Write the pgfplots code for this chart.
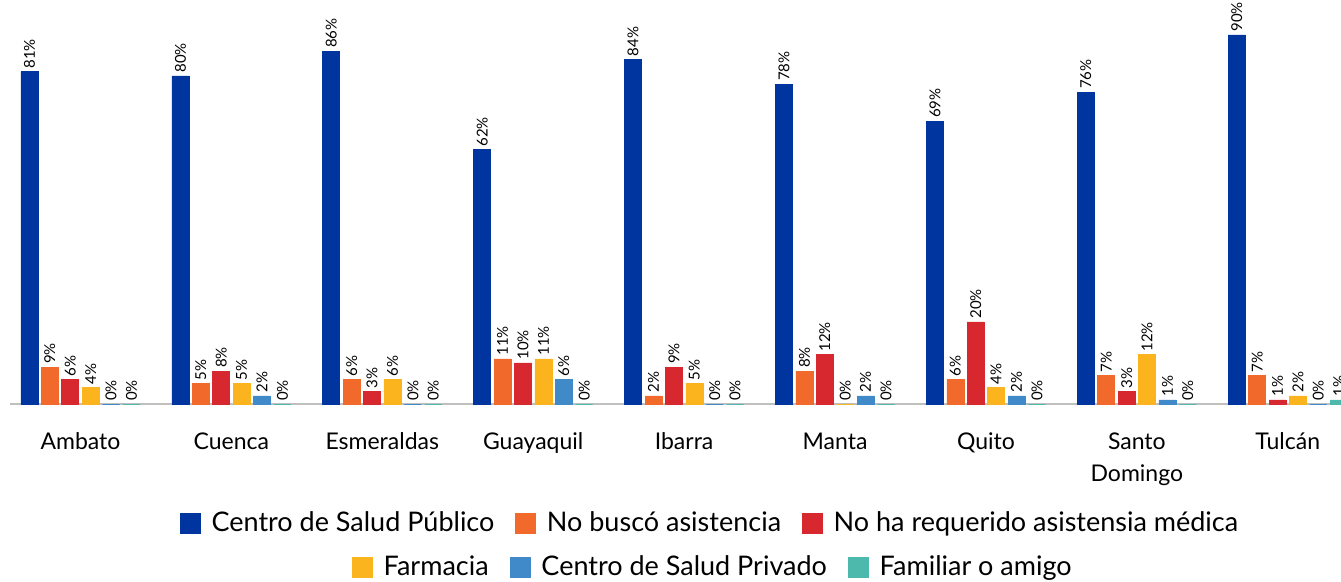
\documentclass[border=0pt]{standalone}
\usepackage{pgfplots}
\pgfplotsset{compat=1.18}
\usepackage{pgfplotstable}
\usepackage{fontspec}
\setmainfont{Lato}
\definecolor{cA}{HTML}{0035A0}
\definecolor{cB}{HTML}{F26A2B}
\definecolor{cC}{HTML}{D7282F}
\definecolor{cD}{HTML}{FBB41E}
\definecolor{cE}{HTML}{418AC9}
\definecolor{cF}{HTML}{4DB8AC}
\pgfplotstableread{
x a b c d e f
0 81 9 6 4 0 0
1 80 5 8 5 2 0
2 86 6 3 6 0 0
3 62 11 10 11 6 0
4 84 2 9 5 0 0
5 78 8 12 0 2 0
6 69 6 20 4 2 0
7 76 7 3 12 1 0
8 90 7 1 2 0 1
}\data
\pgfplotsset{
  mylegend/.style={
    legend columns=-1,
    legend style={draw=none, fill=none, font=\fontsize{13.5}{15}\selectfont,
      /tikz/every odd column/.append style={column sep=4.5pt},
      /tikz/every even column/.append style={column sep=9.5pt},
      nodes={inner sep=1pt}},
    legend image code/.code={\fill[##1] (0pt,-5pt) rectangle (10pt,5pt);},
  },
  base/.style={
    scale only axis, width=665.5pt, height=202pt,
    xmin=-0.467, xmax=8.353, ymin=0, ymax=98.5,
  }
}
\begin{document}
\begin{tikzpicture}
\begin{axis}[base, name=ax,
  ybar=1.7pt, bar width=8.5pt,
  hide y axis,
  axis x line*=bottom,
  x axis line style={draw=black!25, line width=1pt},
  xtick=data, major tick length=0pt,
  xticklabels={\strut Ambato,\strut Cuenca,\strut Esmeraldas,\strut Guayaquil,\strut Ibarra,\strut Manta,\strut Quito,\strut Santo\\\strut Domingo,\strut Tulcán},
  xticklabel style={align=center, anchor=north, font=\fontsize{11.5}{16}\selectfont, yshift=-8pt},
  /pgf/number format/assume math mode=true,
  nodes near coords={\pgfmathprintnumber{\pgfplotspointmeta}\%},
  every node near coord/.append style={rotate=90, anchor=west, font=\fontsize{7.5}{8}\selectfont, black, inner sep=1.5pt},
  clip=false,
  mylegend,
  legend style={at={(0.526,-0.2946)}, anchor=center},
]
\addplot[fill=cA, draw=cA, line width=0.3pt] table[x=x,y=a]{\data};
\addplot[fill=cB, draw=cB, line width=0.3pt] table[x=x,y=b]{\data};
\addplot[fill=cC, draw=cC, line width=0.3pt] table[x=x,y=c]{\data};
\addplot[fill=cD, draw=cD, line width=0.3pt] table[x=x,y=d]{\data};
\addplot[fill=cE, draw=cE, line width=0.3pt] table[x=x,y=e]{\data};
\addplot[fill=cF, draw=cF, line width=0.3pt] table[x=x,y=f]{\data};
\legend{Centro de Salud Público, No buscó asistencia, No ha requerido asistensia médica}
\end{axis}
\begin{axis}[base, hide axis, mylegend,
  legend style={at={(0.528,-0.4035)}, anchor=center}]
\addlegendimage{fill=cD, draw=cD}
\addlegendentry{Farmacia}
\addlegendimage{fill=cE, draw=cE}
\addlegendentry{Centro de Salud Privado}
\addlegendimage{fill=cF, draw=cF}
\addlegendentry{Familiar o amigo}
\end{axis}
\pgfresetboundingbox
\path[use as bounding box] ([xshift=-5pt,yshift=-88.5pt]ax.south west) rectangle (ax.north east);
\end{tikzpicture}
\end{document}
